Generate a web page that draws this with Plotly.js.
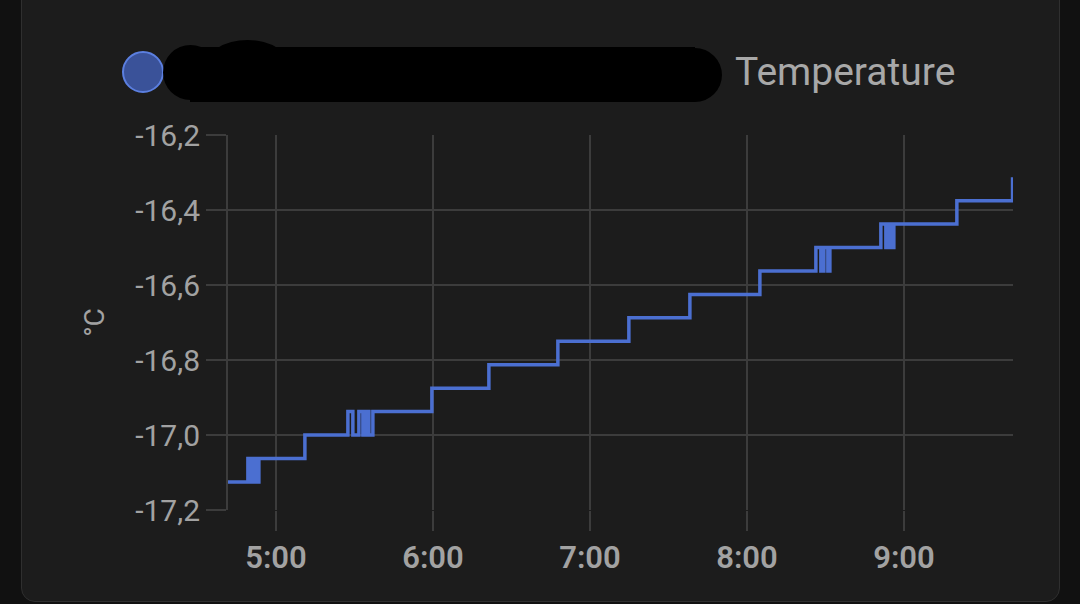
<!DOCTYPE html>
<html>
<head>
<meta charset="utf-8">
<script src="https://cdn.plot.ly/plotly-3.0.1.min.js"></script>
<style>
  html, body { margin: 0; padding: 0; background: #111111; width: 1080px; height: 604px; overflow: hidden; }
  #card { position: absolute; left: 21px; top: -20px; width: 1037px; height: 620px; background: #1c1c1c; border: 1px solid #2f2f2f; border-radius: 14px; }
  #chart { position: absolute; left: 0; top: 0; width: 1080px; height: 604px; }
</style>
</head>
<body>
<div id="card"></div>
<div id="chart"></div>
<script>
// Data (step line, values in °C)
const times = [
  "2024-01-15 04:41:40",
  "2024-01-15 04:49:16", "2024-01-15 04:50:24", "2024-01-15 04:51:33", "2024-01-15 04:52:42", "2024-01-15 04:53:28",
  "2024-01-15 05:11:03",
  "2024-01-15 05:27:29", "2024-01-15 05:29:23", "2024-01-15 05:31:41", "2024-01-15 05:33:13", "2024-01-15 05:34:22", "2024-01-15 05:35:30", "2024-01-15 05:37:02",
  "2024-01-15 05:59:35",
  "2024-01-15 06:21:22",
  "2024-01-15 06:47:44",
  "2024-01-15 07:14:52",
  "2024-01-15 07:38:11",
  "2024-01-15 08:04:56",
  "2024-01-15 08:26:20", "2024-01-15 08:28:14", "2024-01-15 08:29:23", "2024-01-15 08:30:55", "2024-01-15 08:31:41",
  "2024-01-15 08:51:10", "2024-01-15 08:53:05", "2024-01-15 08:54:14", "2024-01-15 08:55:23", "2024-01-15 08:56:08",
  "2024-01-15 09:20:13",
  "2024-01-15 09:41:30"
];
const temps = [
  -17.125,
  -17.0625, -17.125, -17.0625, -17.125, -17.0625,
  -17.0,
  -16.9375, -17.0, -16.9375, -17.0, -16.9375, -17.0, -16.9375,
  -16.875,
  -16.8125,
  -16.75,
  -16.6875,
  -16.625,
  -16.5625,
  -16.5, -16.5625, -16.5, -16.5625, -16.5,
  -16.4375, -16.5, -16.4375, -16.5, -16.4375,
  -16.375,
  -16.3125
];
const yTicks = [-17.2, -17.0, -16.8, -16.6, -16.4, -16.2];
const yTickText = ["-17,2", "-17,0", "-16,8", "-16,6", "-16,4", "-16,2"];
const xTicks = ["2024-01-15 05:00", "2024-01-15 06:00", "2024-01-15 07:00", "2024-01-15 08:00", "2024-01-15 09:00"];
const xTickText = ["5:00", "6:00", "7:00", "8:00", "9:00"];
const seriesName = "Temperature";
const unitLabel = "°C";

const W = 1080, H = 604, L = 228, R = 67, T = 135, B = 94;
const pw = W - L - R, ph = H - T - B;
const px = x => (x - L) / pw;
const py = y => (H - B - y) / ph;

const gridColor = "#3c3c3c";
const textColor = "#a2a2a2";
const lineColor = "#4b6fd1";

const trace = {
  x: times, y: temps, type: "scatter", mode: "lines",
  line: { shape: "hv", color: lineColor, width: 3.5 },
  name: seriesName, showlegend: false, hoverinfo: "skip"
};

const layout = {
  width: W, height: H,
  margin: { l: L, r: R, t: T, b: B, pad: 0 },
  paper_bgcolor: "rgba(0,0,0,0)",
  plot_bgcolor: "rgba(0,0,0,0)",
  separators: ", ",
  font: { family: "Roboto, 'Noto Sans', sans-serif", color: textColor },
  xaxis: {
    type: "date",
    range: ["2024-01-15 04:41:40", "2024-01-15 09:41:40"],
    tickmode: "array", tickvals: xTicks, ticktext: xTickText,
    showgrid: true, gridcolor: gridColor, gridwidth: 2,
    ticks: "outside", ticklen: 20, tickwidth: 2, tickcolor: gridColor,
    tickfont: { size: 31, color: textColor, weight: 600 },
    showline: false, zeroline: false, automargin: false, fixedrange: true
  },
  yaxis: {
    range: [-17.2, -16.2],
    tickmode: "array", tickvals: yTicks, ticktext: yTickText,
    showgrid: true, gridcolor: gridColor, gridwidth: 2,
    ticks: "outside", ticklen: 20, tickwidth: 2, tickcolor: gridColor,
    tickfont: { size: 30, color: textColor },
    showline: true, linecolor: gridColor, linewidth: 2,
    zeroline: false, automargin: false, fixedrange: true,
    title: { text: unitLabel, font: { size: 28, color: textColor }, standoff: 22 }
  },
  shapes: [
    // legend marker
    { type: "circle", xref: "paper", yref: "paper",
      x0: px(123), x1: px(163), y0: py(92), y1: py(52),
      fillcolor: "#3a5299", line: { color: "#5b7fe0", width: 2 } },
    // redaction blob
    { type: "rect", xref: "paper", yref: "paper",
      x0: px(190), x1: px(695), y0: py(102), y1: py(47),
      fillcolor: "#000000", line: { width: 0 } },
    { type: "circle", xref: "paper", yref: "paper",
      x0: px(163), x1: px(218), y0: py(100), y1: py(45),
      fillcolor: "#000000", line: { width: 0 } },
    { type: "circle", xref: "paper", yref: "paper",
      x0: px(668), x1: px(722), y0: py(102), y1: py(48),
      fillcolor: "#000000", line: { width: 0 } },
    { type: "circle", xref: "paper", yref: "paper",
      x0: px(205), x1: px(290), y0: py(95), y1: py(40),
      fillcolor: "#000000", line: { width: 0 } }
  ],
  annotations: [
    { text: seriesName, xref: "paper", yref: "paper",
      x: px(733), y: py(72), xanchor: "left", yanchor: "middle",
      showarrow: false, font: { size: 39, color: "#a8a8a8" } }
  ]
};

Plotly.newPlot("chart", [trace], layout, { staticPlot: true, displayModeBar: false });
</script>
</body>
</html>
